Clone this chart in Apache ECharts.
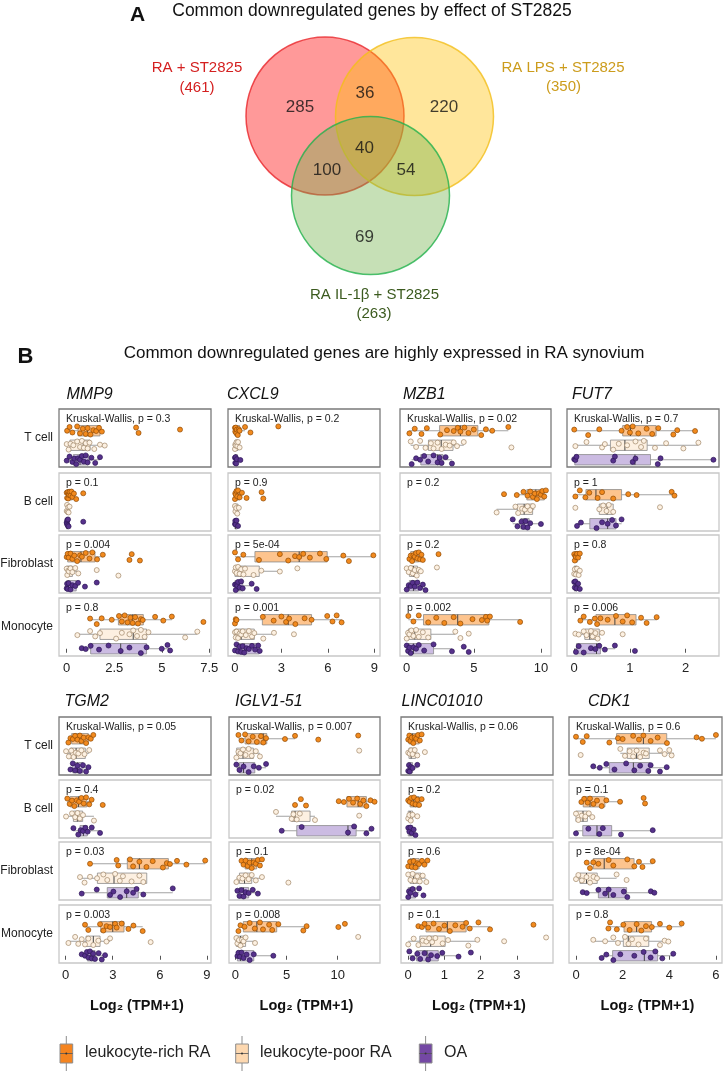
<!DOCTYPE html>
<html><head><meta charset="utf-8">
<script src="https://cdn.jsdelivr.net/npm/echarts@6/dist/echarts.min.js"></script>
<style>html,body{margin:0;padding:0;background:#fff}#c{width:726px;height:1072px}</style>
</head><body><div id="c"></div>
<script>
// ---------------- DATA ----------------
const genes = ['MMP9','CXCL9','MZB1','FUT7','TGM2','IGLV1-51','LINC01010','CDK1'];
const cellTypes = ['T cell','B cell','Fibroblast','Monocyte'];
const groups = ['leukocyte-rich RA','leukocyte-poor RA','OA'];
const tickValues = [[0,2.5,5,7.5],[0,3,6,9],[0,5,10],[0,1,2],[0,3,6,9],[0,5,10],[0,1,2,3],[0,2,4,6]];
const pLabels = [
  ['Kruskal-Wallis, p = 0.3','p = 0.1','p = 0.004','p = 0.8'],
  ['Kruskal-Wallis, p = 0.2','p = 0.9','p = 5e-04','p = 0.001'],
  ['Kruskal-Wallis, p = 0.02','p = 0.2','p = 0.2','p = 0.002'],
  ['Kruskal-Wallis, p = 0.7','p = 1','p = 0.8','p = 0.006'],
  ['Kruskal-Wallis, p = 0.05','p = 0.4','p = 0.03','p = 0.003'],
  ['Kruskal-Wallis, p = 0.007','p = 0.02','p = 0.1','p = 0.008'],
  ['Kruskal-Wallis, p = 0.06','p = 0.2','p = 0.6','p = 0.1'],
  ['Kruskal-Wallis, p = 0.6','p = 0.1','p = 8e-04','p = 0.8']
];
const vennSets = ['RA + ST2825','RA LPS + ST2825','RA IL-1β + ST2825'];
const vennTotals = [461,350,263];
// regions: A only, B only, C only, A∩B, A∩C, B∩C, A∩B∩C
const vennCounts = [285,220,69,36,100,54,40];

// box stats [low whisker, Q1, median, Q3, high whisker]; per cell type: [rich, poor, OA]
const MMP9_box = [
  [[0,0.6,1.1,1.75,1.85],[0,0.17,0.87,1.23,2.0],[0,0.35,0.7,1.14,1.75]],
  [[0,0.02,0.12,0.3,0.5],[0,0,0.03,0.08,0.15],[0,0,0.02,0.06,0.1]],
  [[0,0.05,0.75,1.49,1.9],[0,0,0.1,0.3,0.61],[0,0,0.1,0.5,0.6]],
  [[1.23,2.72,3.47,4.03,5.53],[0.56,1.75,3.5,4.2,6.87],[0.79,1.26,2.84,4.2,5.44]]
];
const MMP9_pts = [
  [[0.02,0.15,0.3,0.55,0.7,0.85,1.0,1.1,1.25,1.4,1.55,1.7,1.85,3.65,3.78,5.96],[0,0.1,0.2,0.35,0.55,0.7,0.8,0.9,1.0,1.1,1.2,1.45,1.75,2.0],[0,0.15,0.3,0.4,0.5,0.6,0.7,0.8,0.9,1.0,1.1,1.3,1.5,1.75]],
  [[0,0.02,0.05,0.08,0.1,0.12,0.15,0.2,0.25,0.3,0.38,0.5,0.87],[0,0.02,0.05,0.08,0.1,0.15],[0,0.01,0.03,0.05,0.07,0.1,0.87]],
  [[0,0.05,0.1,0.2,0.3,0.4,0.55,0.7,0.8,1.0,1.2,1.35,1.6,1.9,3.3,3.42,3.85],[0,0.03,0.08,0.12,0.2,0.3,0.45,0.61,1.58,2.72],[0,0.02,0.05,0.1,0.2,0.3,0.45,0.6,0.96,1.58]],
  [[1.23,1.58,1.84,2.37,2.75,2.9,3.05,3.2,3.35,3.47,3.6,3.75,3.9,4.0,4.65,5.08,5.53,7.19],[0.56,1.23,1.5,1.75,2.6,2.9,3.3,3.5,3.7,3.9,4.1,4.3,6.23,6.87],[0.79,1.0,1.26,1.7,2.2,2.84,3.3,3.9,4.2,5.0,5.3,5.44]]
];
const CXCL9_box = [
  [[0,0,0.05,0.3,0.65],[0,0,0.05,0.2,0.35],[0,0,0.03,0.15,0.35]],
  [[0,0,0.05,0.3,0.5],[0,0,0.05,0.2,0.3],[0,0,0.03,0.15,0.25]],
  [[0,1.29,4.15,5.96,8.94],[0,0,0.37,1.57,2.9],[0,0,0.2,0.5,1.1]],
  [[0,1.77,3.44,4.95,6.89],[0,0,0.4,1.25,2.52],[0,0.1,0.6,1.57,1.6]]
];
const CXCL9_pts = [
  [[0,0.02,0.05,0.08,0.12,0.18,0.25,0.3,0.65,1.0,2.8],[0,0.02,0.05,0.1,0.15,0.2,0.3],[0,0.02,0.04,0.08,0.12,0.35]],
  [[0,0.02,0.05,0.1,0.15,0.2,0.3,0.45,0.75,1.72,1.83],[0,0.03,0.08,0.15,0.25],[0,0.02,0.05,0.1,0.2]],
  [[0,0.2,0.54,1.55,2.9,3.44,3.88,4.15,4.41,4.84,5.49,5.9,7.0,7.36,8.94],[0,0.05,0.1,0.2,0.3,0.4,0.55,0.65,1.2,1.7,2.9,4.03],[0,0.05,0.1,0.15,0.2,0.3,0.4,0.5,1.08,1.4]],
  [[0,0.05,0.1,1.8,2.5,3.0,3.3,3.5,3.9,4.5,4.95,5.96,6.3,6.57,6.89],[0,0.05,0.1,0.2,0.3,0.4,0.5,0.7,0.9,1.1,1.25,1.83,2.52,3.81],[0,0.1,0.2,0.3,0.4,0.5,0.6,0.75,0.9,1.1,1.3,1.5,1.6]]
];
const MZB1_box = [
  [[0.2,2.45,4.0,5.3,7.57],[0.3,1.62,2.57,3.45,4.25],[0.37,1.05,2.3,2.7,3.37]],
  [[8.2,8.95,9.62,10.25,10.37],[6.7,8.25,8.75,9.38,9.5],[7.9,8.5,8.75,9.12,10.0]],
  [[0.2,0.3,0.55,0.9,1.2],[0,0.2,0.5,0.8,1.1],[0,0.2,0.5,0.9,1.4]],
  [[0.12,1.25,3.8,6.12,8.45],[0,0.12,0.6,1.8,3.62],[0,0.1,0.5,2.0,3.37]]
];
const MZB1_pts = [
  [[0.2,0.6,1.1,1.5,2.5,3.0,3.5,3.8,4.0,4.3,4.6,5.0,5.55,5.9,6.37,7.57],[0.3,0.7,1.0,1.4,1.8,2.0,2.3,2.6,2.9,3.2,3.5,3.75,4.25,7.8],[0.37,0.7,1.0,1.3,1.6,2.0,2.3,2.45,2.6,2.9,3.37]],
  [[7.25,8.2,8.7,9.0,9.2,9.4,9.55,9.7,9.85,10.0,10.1,10.25,10.37],[6.7,8.1,8.3,8.6,8.8,9.0,9.2,9.4],[7.9,8.25,8.55,8.7,8.85,9.0,9.2,10.0]],
  [[0.2,0.3,0.4,0.5,0.6,0.7,0.8,0.9,1.0,1.1,1.2,2.37],[0,0.15,0.3,0.45,0.6,0.75,0.9,1.05,2.25],[0,0.15,0.3,0.45,0.6,0.8,1.0,1.2,1.4]],
  [[0.12,0.5,0.9,1.6,2.2,2.8,3.5,4.0,4.9,5.6,5.9,6.0,6.2,8.45],[0,0.1,0.2,0.35,0.5,0.7,0.9,1.2,1.6,3.62,4.0,4.62],[0,0.1,0.2,0.3,0.5,0.7,0.9,1.3,2.0,3.37,4.25,4.62]]
];
const FUT7_box = [
  [[0,0.87,1.01,1.47,2.17],[0,0.65,0.91,1.31,2.23],[0,0.01,1.09,1.37,2.5]],
  [[0.02,0.21,0.39,0.85,1.8],[0.45,0.45,0.59,0.7,0.7],[0.05,0.28,0.6,0.75,0.85]],
  [[0,0,0.03,0.06,0.1],[0,0,0.02,0.05,0.1],[0,0,0.02,0.05,0.1]],
  [[0.11,0.39,0.73,1.11,1.48],[0.02,0.19,0.28,0.45,0.5],[0,0.04,0.4,0.47,0.73]]
];
const FUT7_pts = [
  [[0,0.25,0.45,0.85,0.95,1.0,1.05,1.15,1.3,1.4,1.51,1.78,1.85,2.17],[0.02,0.22,0.5,0.55,0.7,0.8,0.95,1.1,1.2,1.25,1.45,1.65,1.96,2.23],[0,0.02,0.04,0.7,0.73,1.05,1.1,1.5,1.55,2.5]],
  [[0.02,0.1,0.2,0.27,0.42,0.5,0.7,0.97,1.12,1.75,1.8],[0.02,0.45,0.52,0.58,0.62,0.7,1.54],[0.05,0.12,0.4,0.5,0.6,0.68,0.75,0.85]],
  [[0,0.01,0.02,0.03,0.05,0.07,0.1],[0,0.01,0.03,0.05,0.08,0.1],[0,0.01,0.02,0.04,0.07,0.1]],
  [[0.11,0.17,0.28,0.37,0.41,0.47,0.6,0.75,0.87,0.95,1.04,1.2,1.3,1.48],[0.02,0.08,0.17,0.22,0.3,0.33,0.38,0.42,0.5,0.87],[0.03,0.08,0.17,0.3,0.38,0.45,0.55,0.73,1.09]]
];
const TGM2_box = [
  [[0.17,0.38,0.91,1.44,1.76],[0.02,0.3,0.66,1.25,1.5],[0.3,0.45,0.75,1.1,1.45]],
  [[0.1,0.28,0.81,1.34,1.65],[0.02,0.49,0.74,1.08,1.8],[0.49,0.91,1.13,1.38,2.19]],
  [[1.55,3.93,4.7,6.55,8.9],[0.91,2.02,3.08,5.17,5.17],[1.02,2.65,3.89,4.63,6.83]],
  [[1.23,2.23,3.0,3.72,4.91],[0.17,1.3,1.76,2.19,2.83],[1.02,1.38,1.6,1.87,2.51]]
];
const TGM2_pts = [
  [[0.17,0.3,0.45,0.6,0.75,0.9,1.0,1.15,1.3,1.45,1.6,1.76],[0.02,0.2,0.35,0.5,0.65,0.8,1.0,1.2,1.5],[0.3,0.45,0.6,0.75,0.9,1.1,1.3,1.45]],
  [[0.1,0.25,0.4,0.55,0.7,0.85,1.0,1.15,1.3,1.5,1.65,2.36],[0.02,0.4,0.6,0.75,0.9,1.1,1.8],[0.49,0.8,0.95,1.1,1.25,1.4,1.66,2.19]],
  [[1.55,3.25,3.35,4.1,4.3,4.7,5.15,5.55,6.2,6.45,6.65,7.1,7.7,8.9],[0.91,1.2,1.55,2.0,2.4,2.65,3.15,3.45,3.65,4.2,4.7,4.95],[1.02,1.98,2.83,3.04,3.47,3.89,4.3,4.52,4.95,6.83]],
  [[1.23,1.44,2.19,2.4,2.6,2.83,3.15,3.25,3.57,4.0,4.32,4.91],[0.17,0.6,0.8,1.02,1.23,1.44,1.76,2.08,2.6,2.83,5.42],[1.02,1.23,1.35,1.45,1.55,1.65,1.75,1.87,2.1,2.3,2.51]]
];
const IGLV1_51_box = [
  [[0.3,0.95,2.73,3.07,5.83],[0.1,0.13,0.75,1.76,2.4],[0.1,0.4,0.8,1.9,3.0]],
  [[10.0,10.9,12.0,12.8,13.6],[3.97,5.5,5.83,7.3,7.78],[4.53,6.0,11.0,11.8,13.3]],
  [[0.6,0.95,1.6,2.08,2.6],[0.1,0.4,0.9,1.6,2.6],[0.2,0.4,0.8,1.3,2.2]],
  [[0.3,0.78,2.1,4.04,6.96],[0.1,0.1,0.5,1.0,1.92],[0.2,0.2,0.5,1.8,3.71]]
];
const IGLV1_51_pts = [
  [[0.3,0.6,0.95,1.3,1.7,2.1,2.5,2.73,3.0,4.85,5.83,8.1,12.0],[0.1,0.3,0.5,0.75,1.0,1.3,1.6,2.0,2.4,12.1],[0.1,0.4,0.8,1.3,1.8,2.3,3.0]],
  [[5.83,6.4,6.9,10.1,10.6,11.1,11.5,11.9,12.2,12.5,12.8,13.2,13.6],[3.97,5.5,5.67,6.0,6.3,7.78,12.1],[4.53,6.48,11.0,11.6,12.8,13.3]],
  [[0.6,0.8,1.0,1.2,1.4,1.6,1.8,2.0,2.2,2.4,2.6],[0.1,0.4,0.7,1.0,1.3,1.6,2.0,2.6,5.18],[0.2,0.4,0.6,0.8,1.0,1.3,1.7,2.2]],
  [[0.3,0.5,0.9,1.4,1.9,2.4,2.7,3.3,3.6,4.2,6.64,6.96,10.06,10.7],[0.1,0.2,0.35,0.5,0.65,0.8,1.0,1.92,12.0],[0.2,0.3,0.45,0.6,0.8,1.1,1.4,1.8,3.71]]
];
const LINC01010_box = [
  [[0,0.02,0.12,0.3,0.37],[0,0.02,0.08,0.2,0.3],[0,0,0.05,0.12,0.25]],
  [[0,0.05,0.15,0.3,0.37],[0,0,0.05,0.12,0.25],[0,0,0.05,0.12,0.2]],
  [[0,0.05,0.15,0.3,0.45],[0,0.05,0.15,0.35,0.5],[0,0,0.05,0.2,0.3]],
  [[0.28,0.49,1.08,1.6,2.26],[0,0.32,0.62,1.02,1.91],[0.03,0.23,0.52,0.83,1.39]]
];
const LINC01010_pts = [
  [[0,0.03,0.06,0.1,0.14,0.18,0.22,0.27,0.32,0.37],[0,0.04,0.08,0.12,0.18,0.25,0.46],[0,0.02,0.04,0.08,0.12,0.25]],
  [[0,0.04,0.08,0.12,0.16,0.2,0.25,0.3,0.37],[0,0.03,0.07,0.12,0.25],[0,0.03,0.06,0.1,0.15,0.2]],
  [[0,0.05,0.1,0.15,0.2,0.25,0.3,0.38,0.45,0.53],[0,0.06,0.12,0.18,0.25,0.32,0.4,0.5],[0,0.02,0.06,0.12,0.2,0.3,0.42]],
  [[0.28,0.38,0.45,0.55,0.7,0.85,1.0,1.15,1.3,1.5,1.6,1.7,1.94,2.26,3.46],[0,0.15,0.28,0.4,0.5,0.58,0.66,0.75,0.95,1.1,1.66,1.91,2.65,3.81],[0.03,0.12,0.25,0.33,0.45,0.55,0.63,0.8,0.94,1.39,1.73]]
];
const CDK1_box = [
  [[0,1.74,2.89,3.89,6.0],[1.9,2.2,2.6,3.14,4.2],[0.74,1.43,2.46,3.17,3.89]],
  [[0.23,0.31,0.6,1.24,1.89],[0,0,0.3,0.49,0.7],[0,0.29,0.9,1.53,3.29]],
  [[0.46,0.74,1.21,2.49,3.29],[0,0.17,0.45,0.91,1.74],[0.29,0.96,1.4,2.17,3.36]],
  [[1.39,2.06,2.6,3.24,4.53],[0.74,2.03,2.24,3.12,3.96],[1.1,1.57,2.93,3.5,4.17]]
];
const CDK1_pts = [
  [[0,0.29,0.46,1.43,1.8,2.0,2.45,2.7,2.89,3.2,3.5,3.9,5.17,5.4,6.0],[0.2,1.9,2.1,2.3,2.45,2.6,2.75,2.9,3.0,3.6,3.8,4.0,4.1],[0.74,1.02,1.3,1.65,2.15,2.5,2.75,3.1,3.2,3.6,3.89]],
  [[0.23,0.35,0.5,0.6,0.75,0.9,1.1,1.3,1.89,2.9,2.96],[0,0.1,0.25,0.4,0.55,0.7],[0,0.53,1.0,1.15,1.93,3.29]],
  [[0.46,0.6,0.74,0.96,1.4,1.6,2.2,2.5,2.7,2.85,3.29],[0,0.1,0.25,0.45,0.6,0.75,0.9,1.74,2.17],[0.29,0.46,0.96,1.25,1.4,1.6,2.05,2.2,3.21,3.36]],
  [[1.39,1.46,1.75,2.03,2.3,2.6,2.8,3.0,3.25,3.6,4.0,4.53],[0.74,1.25,1.6,1.8,2.1,2.25,2.4,2.68,3.0,3.6,3.8,3.96],[1.1,1.3,1.6,1.9,2.5,2.9,3.2,3.4,3.7,4.17]]
];
const geneBoxes = [MMP9_box, CXCL9_box, MZB1_box, FUT7_box, TGM2_box, IGLV1_51_box, LINC01010_box, CDK1_box];
const genePts = [MMP9_pts, CXCL9_pts, MZB1_pts, FUT7_pts, TGM2_pts, IGLV1_51_pts, LINC01010_pts, CDK1_pts];

// ---------------- LAYOUT / STYLE ----------------
const FONT = '"Liberation Sans", Arial, Helvetica, sans-serif';
const axisRange = [[-0.405,7.59],[-0.45,9.37],[-0.5,10.75],[-0.13,2.6],[-0.43,9.27],[-0.62,14.13],[-0.2,4.0],[-0.3,6.26]];
const colsTop = [[59,152],[228,152],[400,151],[567,152]];
const colsBot = [[59,152],[229,151],[401,152],[569,153]];
const rowsTop = [409,473,535,598];
const rowsBot = [717,780,842,905];
const PANEL_H = 58;
const titleX = [66.5,227,403,572,64.5,235,401.5,588];
const ptFill = ['#f28a1e','#fdf1e2','#56318b'];
const ptStroke = ['#8f4a06','#a08668','#2e1758'];
const boxFill = ['#fdc48e','#fdf0e1','#cbbbe2'];
const keyFill = ['#f5841f','#fdd8b0','#7448a4'];
const boxStroke = '#8c8c8c';
const JIT = [0.0,0.2,-0.18,0.08,-0.26,0.26,-0.06,0.14,-0.3,0.04,-0.12,0.22,-0.22,0.1,-0.02,0.3,-0.15,0.18];

const vennCenters = [[325,116],[414.5,116.5],[370.5,195.5]];
const vennFill = ['rgba(255,0,0,0.5)','rgba(255,193,5,0.5)','rgba(113,177,73,0.5)'];
const vennStroke = ['#e8262a','#f2be1a','#22b24c'];
const vennCountPos = [[300,107],[444,107],[364.5,237],[365,93],[327,170],[406,170],[364.5,148]];
const vennSetPos = [[197,68,197,88],[563,68,563.5,87],[374.5,295,374,314]];
const vennSetColor = ['#d42020','#cc9c1c','#3b5a1e'];

// ---------------- BUILD ----------------
const grids = [], xAxes = [], yAxes = [], series = [], graphics = [];

function txt(x, y, text, opt) {
  opt = opt || {};
  const align = opt.align || 'left';
  graphics.push({type:'text', x:x, y:y, silent:true, z:10,
    style:{text:text, x:0, y:0, fill:opt.color || '#222',
      font:(opt.style||'normal') + ' ' + (opt.weight||'normal') + ' ' + (opt.size||12) + 'px ' + FONT,
      align:align, textAlign:align, verticalAlign:'middle', textVerticalAlign:'middle'}});
}

function renderBox(params, api) {
  const y = api.value(0);
  const k = 2 - y;
  const p = [1,2,3,4,5].map(d => api.coord([api.value(d), y]));
  const h = 5.2;
  return {type:'group', children:[
    {type:'line', shape:{x1:p[0][0], y1:p[0][1], x2:p[1][0], y2:p[1][1]}, style:{stroke:boxStroke, lineWidth:0.8}},
    {type:'line', shape:{x1:p[3][0], y1:p[3][1], x2:p[4][0], y2:p[4][1]}, style:{stroke:boxStroke, lineWidth:0.8}},
    {type:'rect', shape:{x:p[1][0], y:p[1][1]-h, width:Math.max(p[3][0]-p[1][0], 0.8), height:2*h},
      style:{fill:boxFill[k], stroke:boxStroke, lineWidth:0.8}},
    {type:'line', shape:{x1:p[2][0], y1:p[2][1]-h, x2:p[2][0], y2:p[2][1]+h}, style:{stroke:'#444', lineWidth:1}}
  ]};
}

genes.forEach((gname, gi) => {
  const bottom = gi >= 4;
  const col = (bottom ? colsBot : colsTop)[gi % 4];
  const rows = bottom ? rowsBot : rowsTop;
  txt(titleX[gi], bottom ? 702 : 395, gname, {size:16, style:'italic', color:'#111'});
  for (let c = 0; c < 4; c++) {
    const idx = gi * 4 + c;
    grids.push({left:col[0], top:rows[c], width:col[1], height:PANEL_H, show:true,
      backgroundColor:'#fff', borderColor: c === 0 ? '#7a7a7a' : '#c8c8c8', borderWidth:1.3});
    const isBottomRow = c === 3;
    xAxes.push({gridIndex:idx, type:'value', min:axisRange[gi][0], max:axisRange[gi][1],
      show:isBottomRow, axisLine:{show:false}, splitLine:{show:false},
      axisTick:{show:true, length:4, lineStyle:{color:'#555', width:1}, customValues:tickValues[gi]},
      axisLabel:{customValues:tickValues[gi], fontSize:13, color:'#222', margin:6, fontFamily:FONT}});
    yAxes.push({gridIndex:idx, type:'value', min:-0.5, max:3.5, show:false});
    const stats = geneBoxes[gi][c];
    series.push({type:'custom', xAxisIndex:idx, yAxisIndex:idx, silent:true, z:2,
      data: stats.map((s, k) => [2 - k, s[0], s[1], s[2], s[3], s[4]]),
      encode:{x:[1,2,3,4,5], y:0}, renderItem:renderBox});
    for (let k = 0; k < 3; k++) {
      const yc = 2 - k;
      series.push({type:'scatter', xAxisIndex:idx, yAxisIndex:idx, silent:true, z:3,
        symbolSize:5, itemStyle:{color:ptFill[k], borderColor:ptStroke[k], borderWidth:0.7, opacity:1},
        data: genePts[gi][c][k].map((v, j) => [v, yc + JIT[(j * 5 + k * 3 + c * 7 + gi) % JIT.length]])});
    }
    txt(col[0] + 7, rows[c] + 10, pLabels[gi][c], {size:10.5, color:'#222'});
    if (gi % 4 === 0) txt(53, rows[c] + 29, cellTypes[c], {size:12, align:'right', color:'#222'});
  }
  if (bottom) txt(col[0] + col[1] / 2 + 2, 1006, 'Log₂ (TPM+1)', {size:14.5, weight:'bold', align:'center', color:'#111'});
});

// Venn diagram in a pixel grid
const vIdx = grids.length;
grids.push({left:0, top:0, width:726, height:330, show:false});
xAxes.push({gridIndex:vIdx, type:'value', min:0, max:726, show:false});
yAxes.push({gridIndex:vIdx, type:'value', min:0, max:330, inverse:true, show:false});
series.push({type:'scatter', xAxisIndex:vIdx, yAxisIndex:vIdx, silent:true, z:1, symbolSize:158,
  data: vennCenters.map((p, i) => ({value:p, itemStyle:{color:vennFill[i], borderColor:vennStroke[i], borderWidth:1.5}}))});
series.push({type:'scatter', xAxisIndex:vIdx, yAxisIndex:vIdx, silent:true, z:4, symbolSize:1,
  itemStyle:{color:'transparent'},
  label:{show:true, position:'inside', fontSize:17, color:'#111', fontFamily:FONT,
    formatter: p => String(vennCounts[p.dataIndex])},
  data: vennCountPos});
vennSets.forEach((s, i) => {
  const q = vennSetPos[i];
  txt(q[0], q[1], s, {size:15, align:'center', color:vennSetColor[i]});
  txt(q[2], q[3], '(' + vennTotals[i] + ')', {size:15, align:'center', color:vennSetColor[i]});
});

// titles
txt(137.5, 15, 'A', {size:21, weight:'bold', align:'center', color:'#111'});
txt(372, 11, 'Common downregulated genes by effect of ST2825', {size:17.5, align:'center', color:'#111'});
txt(25.5, 357, 'B', {size:22, weight:'bold', align:'center', color:'#111'});
txt(384, 353, 'Common downregulated genes are highly expressed in RA synovium', {size:17, align:'center', color:'#111'});

// legend
const keyX = [60, 235.7, 419.3];
const textX = [85, 260, 444];
groups.forEach((g, k) => {
  const cx = keyX[k] + 6.3;
  graphics.push({type:'line', silent:true, shape:{x1:cx, y1:1036, x2:cx, y2:1071}, style:{stroke:boxStroke, lineWidth:1}});
  graphics.push({type:'rect', silent:true, shape:{x:keyX[k], y:1044, width:12.7, height:19}, style:{fill:keyFill[k], stroke:boxStroke, lineWidth:1}});
  graphics.push({type:'line', silent:true, shape:{x1:keyX[k], y1:1053.5, x2:keyX[k]+12.7, y2:1053.5}, style:{stroke:'#555', lineWidth:0.8}});
  graphics.push({type:'circle', silent:true, shape:{cx:cx, cy:1053.5, r:1}, style:{fill:'#333'}});
  txt(textX[k], 1053, g, {size:16, color:'#222'});
});

const chart = echarts.init(document.getElementById('c'), null, {renderer:'canvas'});
chart.setOption({animation:false, backgroundColor:'#fff', grid:grids, xAxis:xAxes, yAxis:yAxes, series:series, graphic:{elements:graphics}});
</script></body></html>
